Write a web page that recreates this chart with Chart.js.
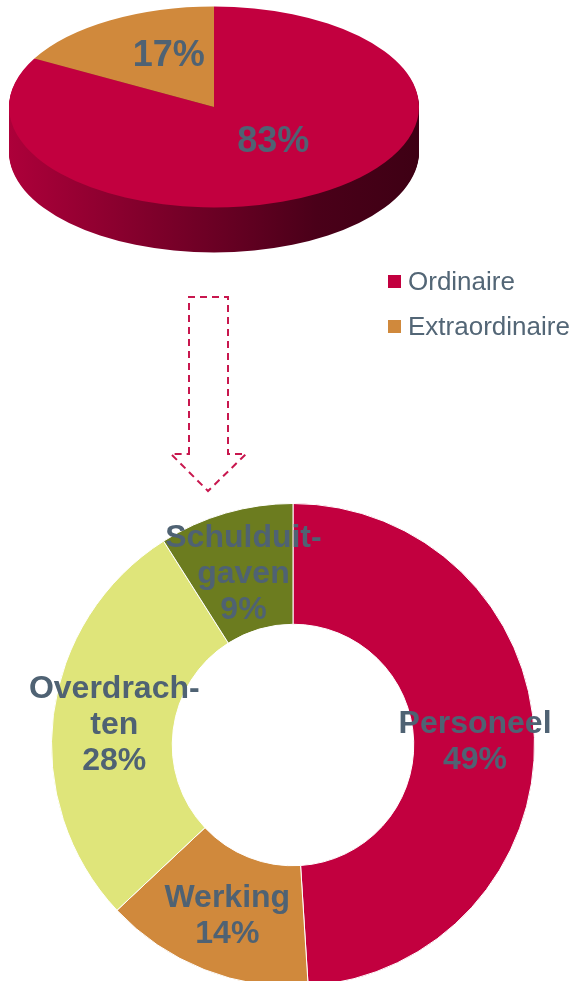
<!DOCTYPE html>
<html>
<head>
<meta charset="utf-8">
<script src="https://cdn.jsdelivr.net/npm/chart.js@4.4.1/dist/chart.umd.min.js"></script>
<style>
  html, body { margin:0; padding:0; background:#fff; overflow:hidden; width:575px; height:981px; }
  #wrap { position:relative; width:575px; height:981px; overflow:hidden; }
  #pieChart { position:absolute; left:0; top:0; }
  #donutChart { position:absolute; left:0; top:493px; }
  #arrow { position:absolute; left:0; top:0; }
  #legend { position:absolute; left:388px; top:265px; font:26px "Liberation Sans", Arial, sans-serif; color:#536676; }
  .li { display:flex; align-items:center; height:32px; margin-bottom:13px; }
  .sw { width:13px; height:13px; margin-right:7px; }
</style>
</head>
<body>
<div id="wrap">
  <canvas id="pieChart" width="430" height="430"></canvas>
  <svg id="arrow" width="575" height="981">
    <polygon points="189,454 189,297 228,297 228,454 246,454 208,491 171,454"
      fill="none" stroke="#c8174e" stroke-width="2" stroke-dasharray="7 5"/>
  </svg>
  <div id="legend"></div>
  <canvas id="donutChart" width="575" height="504"></canvas>
</div>
<script>
// ── Data ──────────────────────────────────────────────────────────────────────
const pieLabels = ['Ordinaire', 'Extraordinaire'];
const pieValues = [83, 17];
const pieColors = ['#c2003f', '#d0893c'];

const donutLabels = ['Personeel', 'Werking', 'Overdrachten', 'Schulduitgaven'];
const donutLines  = [['Personeel'], ['Werking'], ['Overdrach-', 'ten'], ['Schulduit-', 'gaven']];
const donutValues = [49, 14, 28, 9];
const donutColors = ['#c2003f', '#d0893c', '#dfe57a', '#6c7c1f'];

const TEXT = '#4f6273';
const FONT = '"Liberation Sans", Arial, sans-serif';

// ── Legend ────────────────────────────────────────────────────────────────────
document.getElementById('legend').innerHTML = pieLabels.map((l, i) =>
  `<div class="li"><span class="sw" style="background:${pieColors[i]}"></span>${l}</div>`
).join('');

// ── 3D pie (tilted + extruded) ────────────────────────────────────────────────
const PIE_CX = 214, PIE_CY = 107, PIE_K = 0.49, PIE_DEPTH = 45;
const SHIFT = { x: 7, y: -8 };

function arcPath(ctx, a) {
  ctx.beginPath();
  ctx.moveTo(a.x, a.y);
  ctx.arc(a.x, a.y, a.outerRadius, a.startAngle, a.endAngle);
  ctx.closePath();
}

const tilt = {
  id: 'tilt',
  beforeDatasetsDraw(chart) {
    const ctx = chart.ctx;
    const arcs = chart.getDatasetMeta(0).data;
    const c = arcs[0];
    ctx.save();
    // side wall
    for (let d = PIE_DEPTH; d > 0; d--) {
      ctx.save();
      ctx.translate(PIE_CX, PIE_CY + d);
      ctx.scale(1, PIE_K);
      ctx.translate(-c.x, -c.y);
      const g = ctx.createLinearGradient(c.x - c.outerRadius, 0, c.x + c.outerRadius, 0);
      g.addColorStop(0, '#ad003a');
      g.addColorStop(0.75, '#4a0019');
      g.addColorStop(1, '#3e0014');
      ctx.fillStyle = g;
      arcs.forEach(a => { arcPath(ctx, a); ctx.fill(); });
      ctx.restore();
    }
    // top face transform
    ctx.translate(PIE_CX, PIE_CY);
    ctx.scale(1, PIE_K);
    ctx.translate(-c.x, -c.y);
  },
  afterDatasetsDraw(chart) {
    const ctx = chart.ctx;
    ctx.restore();
    ctx.save();
    ctx.font = 'bold 36px ' + FONT;
    ctx.fillStyle = TEXT;
    ctx.textAlign = 'center';
    ctx.textBaseline = 'middle';
    chart.getDatasetMeta(0).data.forEach((a, i) => {
      const mid = (a.startAngle + a.endAngle) / 2;
      const r = a.outerRadius * 0.5;
      const x = PIE_CX + r * Math.cos(mid) + SHIFT.x;
      const y = PIE_CY + r * Math.sin(mid) * PIE_K + SHIFT.y;
      ctx.fillText(pieValues[i] + '%', x, y);
    });
    ctx.restore();
  }
};

new Chart(document.getElementById('pieChart').getContext('2d'), {
  type: 'pie',
  data: { labels: pieLabels, datasets: [{ data: pieValues, backgroundColor: pieColors, borderWidth: 0 }] },
  options: {
    responsive: false, animation: false,
    layout: { padding: 10 },
    plugins: { legend: { display: false }, tooltip: { enabled: false } }
  },
  plugins: [tilt]
});

// ── Donut ─────────────────────────────────────────────────────────────────────
const donutText = {
  id: 'donutText',
  afterDatasetsDraw(chart) {
    const ctx = chart.ctx;
    ctx.save();
    ctx.font = 'bold 32px ' + FONT;
    ctx.fillStyle = TEXT;
    ctx.textAlign = 'center';
    ctx.textBaseline = 'middle';
    const LH = 36;
    chart.getDatasetMeta(0).data.forEach((a, i) => {
      const p = a.tooltipPosition();
      const lines = donutLines[i].concat([donutValues[i] + '%']);
      const y0 = p.y + 3 - (lines.length - 1) * LH / 2;
      lines.forEach((t, j) => ctx.fillText(t, p.x + 1, y0 + j * LH));
    });
    ctx.restore();
  }
};

new Chart(document.getElementById('donutChart').getContext('2d'), {
  type: 'doughnut',
  data: { labels: donutLabels, datasets: [{ data: donutValues, backgroundColor: donutColors, borderColor: '#ffffff', borderWidth: 1 }] },
  options: {
    responsive: false, animation: false, cutout: '50%',
    layout: { padding: { left: 51, right: 40, top: 10, bottom: 10 } },
    plugins: { legend: { display: false }, tooltip: { enabled: false } }
  },
  plugins: [donutText]
});
</script>
</body>
</html>
